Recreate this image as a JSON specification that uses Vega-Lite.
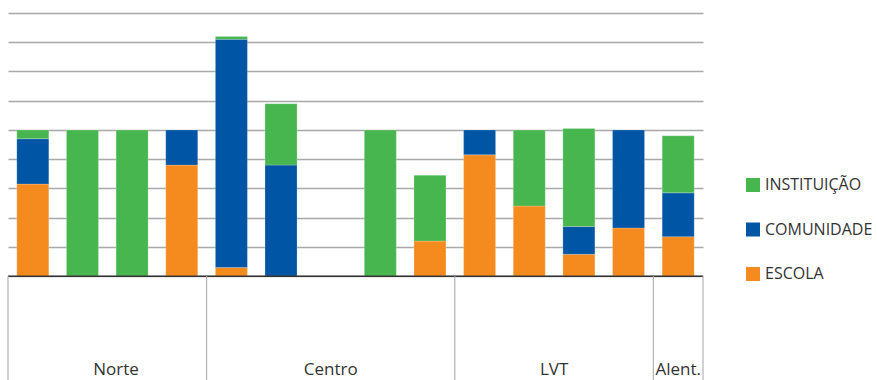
{
  "$schema": "https://vega.github.io/schema/vega-lite/v6.json",
  "width": 695,
  "height": 367,
  "autosize": {"type": "none"},
  "padding": {"left": 8, "top": 13, "right": 174, "bottom": 0},
  "background": "white",
  "config": {
    "view": {"stroke": null},
    "font": "Open Sans",
    "text": {"font": "Open Sans"}
  },
  "datasets": {
    "barras": [
      {"regiao": "Norte", "barra": "N1", "categoria": "ESCOLA", "valor": 63},
      {"regiao": "Norte", "barra": "N1", "categoria": "COMUNIDADE", "valor": 31},
      {"regiao": "Norte", "barra": "N1", "categoria": "INSTITUIÇÃO", "valor": 6},
      {"regiao": "Norte", "barra": "N2", "categoria": "INSTITUIÇÃO", "valor": 100},
      {"regiao": "Norte", "barra": "N3", "categoria": "INSTITUIÇÃO", "valor": 100},
      {"regiao": "Norte", "barra": "N4", "categoria": "ESCOLA", "valor": 76},
      {"regiao": "Norte", "barra": "N4", "categoria": "COMUNIDADE", "valor": 24},
      {"regiao": "Centro", "barra": "C1", "categoria": "ESCOLA", "valor": 6},
      {"regiao": "Centro", "barra": "C1", "categoria": "COMUNIDADE", "valor": 156},
      {"regiao": "Centro", "barra": "C1", "categoria": "INSTITUIÇÃO", "valor": 2},
      {"regiao": "Centro", "barra": "C2", "categoria": "COMUNIDADE", "valor": 76},
      {"regiao": "Centro", "barra": "C2", "categoria": "INSTITUIÇÃO", "valor": 42},
      {"regiao": "Centro", "barra": "C4", "categoria": "INSTITUIÇÃO", "valor": 100},
      {"regiao": "Centro", "barra": "C5", "categoria": "ESCOLA", "valor": 24},
      {"regiao": "Centro", "barra": "C5", "categoria": "INSTITUIÇÃO", "valor": 45},
      {"regiao": "LVT", "barra": "L1", "categoria": "ESCOLA", "valor": 83},
      {"regiao": "LVT", "barra": "L1", "categoria": "COMUNIDADE", "valor": 17},
      {"regiao": "LVT", "barra": "L2", "categoria": "ESCOLA", "valor": 48},
      {"regiao": "LVT", "barra": "L2", "categoria": "INSTITUIÇÃO", "valor": 52},
      {"regiao": "LVT", "barra": "L3", "categoria": "ESCOLA", "valor": 15},
      {"regiao": "LVT", "barra": "L3", "categoria": "COMUNIDADE", "valor": 19},
      {"regiao": "LVT", "barra": "L3", "categoria": "INSTITUIÇÃO", "valor": 67},
      {"regiao": "LVT", "barra": "L4", "categoria": "ESCOLA", "valor": 33},
      {"regiao": "LVT", "barra": "L4", "categoria": "COMUNIDADE", "valor": 67},
      {"regiao": "Alent.", "barra": "A1", "categoria": "ESCOLA", "valor": 27},
      {"regiao": "Alent.", "barra": "A1", "categoria": "COMUNIDADE", "valor": 30},
      {"regiao": "Alent.", "barra": "A1", "categoria": "INSTITUIÇÃO", "valor": 39}
    ],
    "inicioRegiao": [
      {"regiao": "Norte", "barra": "N1"},
      {"regiao": "Centro", "barra": "C1"},
      {"regiao": "LVT", "barra": "L1"},
      {"regiao": "Alent.", "barra": "A1"}
    ],
    "fimRegiao": [
      {"regiao": "Alent.", "barra": "A1"}
    ]
  },
  "resolve": {"scale": {"x": "shared", "y": "shared"}},
  "layer": [
    {
      "data": {"name": "barras"},
      "transform": [
        {"calculate": "indexof(['ESCOLA','COMUNIDADE','INSTITUIÇÃO'], datum.categoria)", "as": "ordem"}
      ],
      "mark": {"type": "bar", "stroke": "white", "strokeOpacity": 0.35, "strokeWidth": 0.6},
      "encoding": {
        "x": {
          "field": "barra",
          "type": "nominal",
          "scale": {
            "type": "band",
            "domain": ["N1", "N2", "N3", "N4", "C1", "C2", "C3", "C4", "C5", "L1", "L2", "L3", "L4", "A1"],
            "paddingInner": 0.355,
            "paddingOuter": 0.1775
          },
          "axis": null
        },
        "y": {
          "aggregate": "sum",
          "field": "valor",
          "type": "quantitative",
          "stack": "zero",
          "scale": {"domain": [-71, 180], "nice": false, "zero": false},
          "axis": {
            "values": [0, 20, 40, 60, 80, 100, 120, 140, 160, 180],
            "grid": true,
            "gridColor": "#a9a9a9",
            "gridWidth": 1.3,
            "labels": false,
            "ticks": false,
            "domain": false,
            "title": null
          }
        },
        "color": {
          "field": "categoria",
          "type": "nominal",
          "scale": {
            "domain": ["INSTITUIÇÃO", "COMUNIDADE", "ESCOLA"],
            "range": ["#47b64f", "#0155a5", "#f58b1f"]
          },
          "legend": {
            "title": null,
            "orient": "none",
            "legendX": 737,
            "legendY": 164,
            "symbolType": "square",
            "symbolSize": 196,
            "symbolStrokeWidth": 0,
            "symbolOpacity": 1,
            "labelFont": "Open Sans",
            "labelFontSize": 16,
            "labelColor": "#333333",
            "labelOffset": 4,
            "rowPadding": 28.5,
            "padding": 0
          }
        },
        "order": {"field": "ordem", "type": "quantitative"}
      }
    },
    {
      "data": {"values": [{}]},
      "mark": {"type": "rule", "color": "#333333", "strokeWidth": 1.6},
      "encoding": {"y": {"datum": 0}}
    },
    {
      "data": {"name": "inicioRegiao"},
      "mark": {"type": "rule", "color": "#b3b3b3", "strokeWidth": 1.2},
      "encoding": {
        "x": {"field": "barra", "type": "nominal", "bandPosition": -0.275},
        "y": {"datum": 0},
        "y2": {"datum": -71}
      }
    },
    {
      "data": {"name": "fimRegiao"},
      "mark": {"type": "rule", "color": "#b3b3b3", "strokeWidth": 1.2},
      "encoding": {
        "x": {"field": "barra", "type": "nominal", "bandPosition": 1.275},
        "y": {"datum": 0},
        "y2": {"datum": -71}
      }
    },
    {
      "data": {"values": [{"regiao": "Norte", "barra": "N3"}]},
      "mark": {"type": "text", "fontSize": 17, "color": "#333333", "baseline": "alphabetic", "align": "center"},
      "encoding": {
        "x": {"field": "barra", "type": "nominal", "bandPosition": 0},
        "y": {"datum": -67.3},
        "text": {"field": "regiao"}
      }
    },
    {
      "data": {"values": [{"regiao": "Centro", "barra": "C3"}, {"regiao": "Alent.", "barra": "A1"}]},
      "mark": {"type": "text", "fontSize": 17, "color": "#333333", "baseline": "alphabetic", "align": "center"},
      "encoding": {
        "x": {"field": "barra", "type": "nominal", "bandPosition": 0.5},
        "y": {"datum": -67.3},
        "text": {"field": "regiao"}
      }
    },
    {
      "data": {"values": [{"regiao": "LVT", "barra": "L2"}]},
      "mark": {"type": "text", "fontSize": 17, "color": "#333333", "baseline": "alphabetic", "align": "center"},
      "encoding": {
        "x": {"field": "barra", "type": "nominal", "bandPosition": 1.275},
        "y": {"datum": -67.3},
        "text": {"field": "regiao"}
      }
    }
  ]
}
